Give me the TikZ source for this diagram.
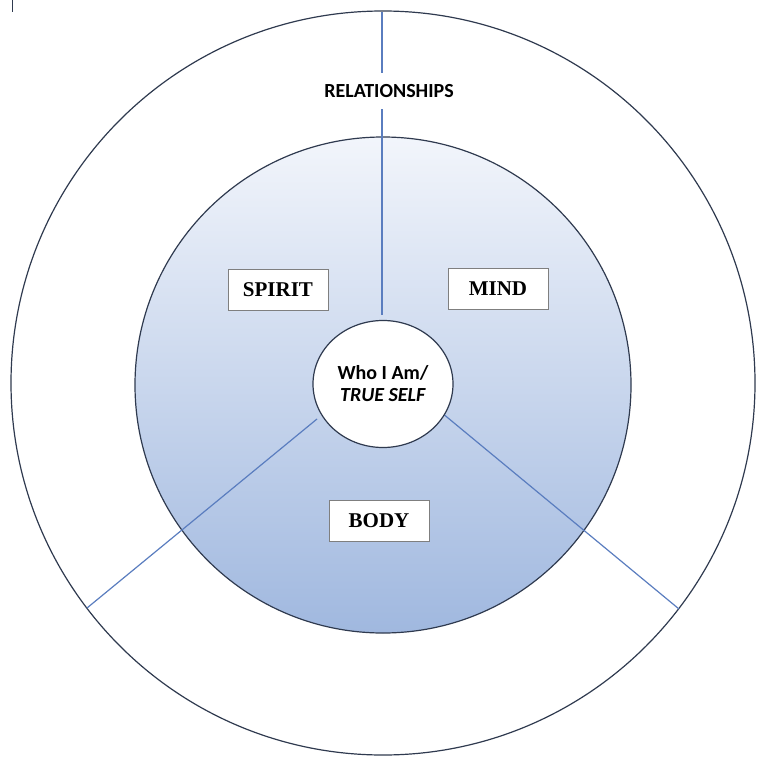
\documentclass[tikz,border=0pt]{standalone}
\usepackage{fontspec}
\usetikzlibrary{shapes.geometric}
\newfontfamily\calibri{Carlito}
\newfontfamily\cambria{Liberation Serif}
\definecolor{ring}{HTML}{2F3A4F}
\definecolor{spoke}{HTML}{5A7DBF}
\definecolor{gtop}{HTML}{F2F5FB}
\definecolor{gbot}{HTML}{A0B8DF}
\definecolor{boxline}{HTML}{7F7F7F}
\begin{document}
\begin{tikzpicture}[x=1pt,y=-1pt,
  ringline/.style={draw=ring,line width=1.2pt},
  spokeline/.style={draw=spoke,line width=1.2pt},
  areabox/.style={draw=boxline,fill=white,line width=0.8pt,minimum width=100pt,minimum height=41pt,inner sep=0pt,font=\cambria\bfseries\fontsize{21}{24}\selectfont},
  labeltext/.style={font=\calibri\bfseries\fontsize{20}{22}\selectfont,text=black}]
\useasboundingbox (0,0) rectangle (768,768);
% small tick at top left
\coordinate (tk1) at (12.5,0);
\coordinate (tk2) at (12.5,12.5);
\draw[draw=ring,line width=1pt] (tk1) -- (tk2);
% outer ring
\node[circle,ringline,minimum size=744pt,inner sep=0pt] (outer) at (383,383) {};
% inner shaded circle
\node[circle,draw=ring,line width=1.2pt,top color=gtop,bottom color=gbot,minimum size=496pt,inner sep=0pt] (inner) at (383,385) {};
% spokes
\coordinate (vt) at (382,12);
\coordinate (vb) at (382,315);
\coordinate (l1) at (317,419);
\coordinate (l2) at (87,608);
\coordinate (r1) at (442,413);
\coordinate (r2) at (679,609);
\draw[spokeline] (vt) -- (vb);
\draw[spokeline] (l1) -- (l2);
\draw[spokeline] (r1) -- (r2);
% outer label
\node[labeltext,fill=white,inner sep=0pt,minimum height=36pt,minimum width=134pt] (rel) at (389,91) {RELATIONSHIPS};
% centre
\node[ellipse,ringline,fill=white,minimum width=140pt,minimum height=127pt,inner sep=0pt,align=center,labeltext] (self) at (383,384) {Who I Am/\\\textit{TRUE SELF}};
% area boxes
\node[areabox] (spirit) at (278,290) {SPIRIT};
\node[areabox] (mind) at (498,289) {MIND};
\node[areabox] (body) at (379,521) {BODY};
\end{tikzpicture}
\end{document}
